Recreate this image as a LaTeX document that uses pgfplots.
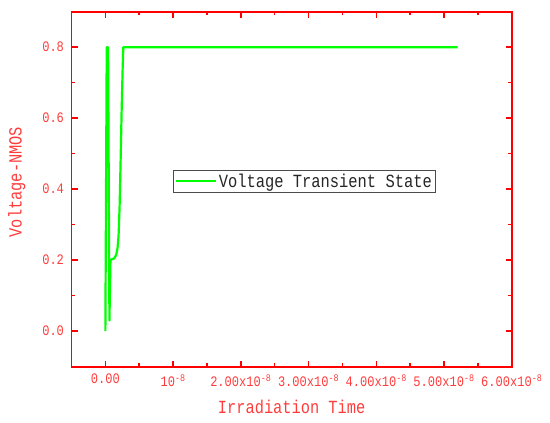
\documentclass[border=0pt]{standalone}
\usepackage{fontspec}
\usepackage{pgfplots}
\pgfplotsset{compat=1.18}
\newfontfamily\simfont[FakeStretch=0.83]{Liberation Mono}
\definecolor{lgreen}{RGB}{0,255,0}
\definecolor{axred}{RGB}{255,0,0}
\definecolor{txtred}{RGB}{255,60,60}
\begin{document}
\begin{tikzpicture}
\begin{axis}[
  name=ax,
  scale only axis,
  width=440.3pt, height=355pt,
  xmin=-0.5e-8, xmax=6e-8,
  ymin=-0.1, ymax=0.9,
  xtick={0,1e-8,2e-8,3e-8,4e-8,5e-8,6e-8},
  xticklabels={0.00, 10\textsuperscript{-8}, 2.00x10\textsuperscript{-8}, 3.00x10\textsuperscript{-8}, 4.00x10\textsuperscript{-8}, 5.00x10\textsuperscript{-8}, 6.00x10\textsuperscript{-8}},
  ytick={0,0.2,0.4,0.6,0.8},
  yticklabels={0.0,0.2,0.4,0.6,0.8},
  minor x tick num=1,
  minor y tick num=1,
  scaled x ticks=false,
  tick align=inside,
  axis line style={axred, line width=1.8pt},
  every tick/.style={axred, line width=1.5pt},
  major tick length=6pt,
  minor tick length=3.5pt,
  tick label style={font=\simfont\fontsize{14.5}{16}\selectfont, text=txtred},
  xticklabel style={yshift=-4pt},
  yticklabel style={xshift=-4pt},
  xlabel={Irradiation Time},
  ylabel={Voltage-NMOS},
  label style={font=\simfont\fontsize{18.5}{20}\selectfont, text=txtred},
  xlabel style={at={(axis description cs:0.5,-0.113)}, anchor=center},
  ylabel style={at={(axis description cs:-0.124,0.52)}, anchor=center},
  legend style={at={(axis description cs:0.23,0.554)}, anchor=north west,
    draw=black!70, line width=0.6pt, inner sep=1.5pt,
    font=\simfont\fontsize{18.6}{20}\selectfont, text=black!85},
  legend cell align=left,
  legend image code/.code={\draw[#1, line width=2.2pt] (0pt,0pt)--(40pt,0pt);},
]
\addplot[lgreen, line width=2.2pt, line join=round] coordinates {
  (0.0e-9, 0.0)
  (0.2e-9, 0.8)
  (0.4e-9, 0.8)
  (0.6e-9, 0.03)
  (0.75e-9, 0.2)
  (1.0e-9, 0.203)
  (1.3e-9, 0.205)
  (1.6e-9, 0.215)
  (1.8e-9, 0.235)
  (1.95e-9, 0.27)
  (2.1e-9, 0.35)
  (2.25e-9, 0.48)
  (2.4e-9, 0.62)
  (2.55e-9, 0.74)
  (2.65e-9, 0.8)
  (52e-9, 0.8)
};
\addlegendentry{Voltage Transient State}
\end{axis}
\path ([shift={(-71.5pt,-55.3pt)}]ax.south west) rectangle ([shift={(38.2pt,11.7pt)}]ax.north east);
\end{tikzpicture}
\end{document}
